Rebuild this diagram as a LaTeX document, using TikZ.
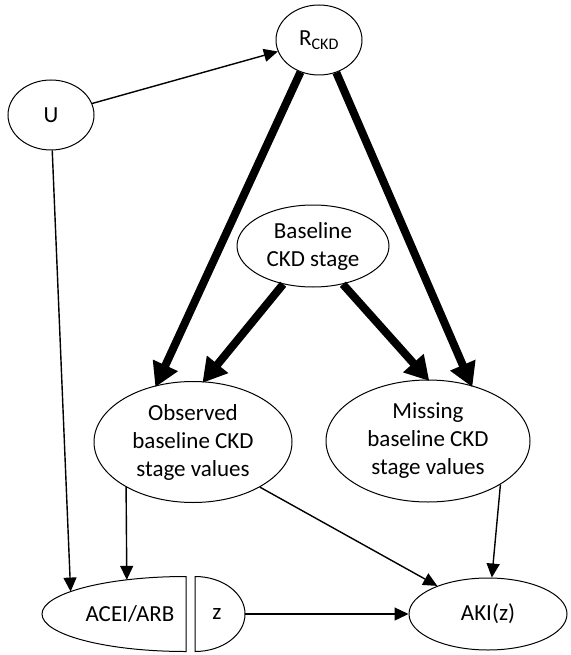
\documentclass[tikz,border=0pt]{standalone}
\usepackage{fontspec}
\setmainfont{Carlito}
\usetikzlibrary{shapes.geometric,arrows.meta}
\begin{document}
\begin{tikzpicture}[x=1pt,y=-1pt,
  every node/.style={font=\fontsize{23}{28}\selectfont},
  var/.style={ellipse,draw,line width=1pt,inner sep=0pt,align=center},
  hidden/.style={ellipse,inner sep=0pt,outer sep=0pt},
  thin/.style={line width=1.4pt,-{Triangle[length=14pt,width=13pt]}},
  thick/.style={line width=8pt,-{Triangle[length=24pt,width=26pt]},shorten >=-2pt}]
\useasboundingbox (0,0) rectangle (570,655);

% variables
\node[var,minimum width=86pt,minimum height=70pt] (u) at (51,115) {U};
\node[var,minimum width=86pt,minimum height=70pt] (r) at (319,40) {R\textsubscript{CKD}};
\node[var,minimum width=152pt,minimum height=82pt] (base) at (313,246) {Baseline\\CKD stage};
\node[var,minimum width=198pt,minimum height=121pt] (obs) at (193,442) {Observed\\baseline CKD\\stage values};
\node[var,minimum width=204pt,minimum height=122pt] (mis) at (428,441) {Missing\\baseline CKD\\stage values};
\node[var,minimum width=158pt,minimum height=72pt] (aki) at (488,614) {AKI(z)};

% split intervention node: ACEI/ARB | z
\node[hidden,minimum width=288pt,minimum height=75pt] (acei) at (186,614) {};
\node[hidden,minimum width=100pt,minimum height=75pt] (zb) at (195,614) {};
\draw[line width=1pt] (186,576.5)
  arc[start angle=270,end angle=90,x radius=144,y radius=37.5] -- cycle;
\draw[line width=1pt] (195,576.5)
  arc[start angle=270,end angle=450,x radius=50,y radius=37.5] -- cycle;
\node (aceitext) at (130,614) {ACEI/ARB};
\node (ztext) at (217,614) {z};

% causal arrows
\draw[thin] (u) -- (r);
\draw[thin] (u.272) -- (acei.169);
\draw[thin] (obs.214) -- (acei.150);
\draw[thin] (obs.-34) -- (aki.151);
\draw[thin] (zb.east) -- (aki.west);
\draw[thin] (mis.-31) -- (aki.84);

\draw[thick] (r.240) -- (obs.123);
\draw[thick] (r.-62) -- (mis.52);
\draw[thick] (base.232) -- (obs.80);
\draw[thick] (base.-52) -- (mis.90);
\end{tikzpicture}
\end{document}
